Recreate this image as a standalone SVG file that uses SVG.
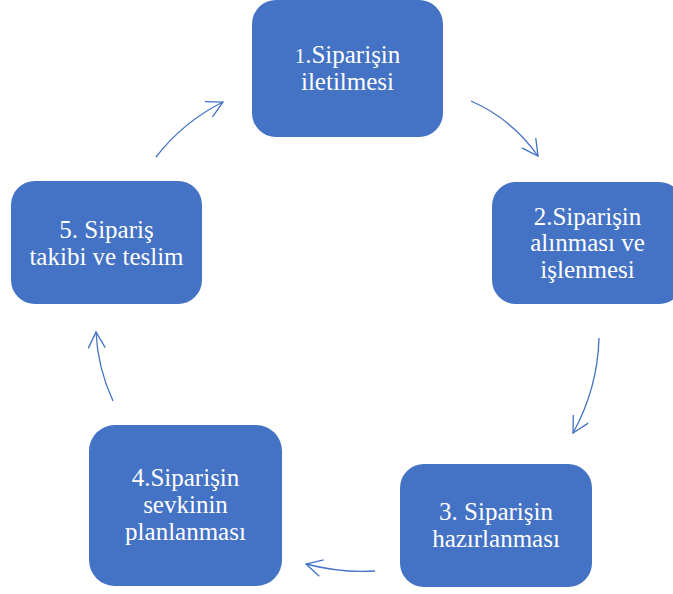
<svg xmlns="http://www.w3.org/2000/svg" width="673" height="594" viewBox="0 0 673 594">
  <style>
    .box { fill: #4472C4; }
    .lbl { fill: #FFFFFF; font-family: "Liberation Serif", "Times New Roman", serif; font-size: 25px; text-anchor: middle; }
    .flow { fill: none; stroke: #4472C4; stroke-width: 1.3; marker-end: url(#head); }
  </style>
  <defs>
    <marker id="head" markerUnits="userSpaceOnUse" viewBox="-20 -12 24 24" markerWidth="24" markerHeight="24" refX="0" refY="0" orient="auto" overflow="visible">
      <path d="M-16,-8.5 L0,0 L-16,8.5" fill="none" stroke="#4472C4" stroke-width="1.3"/>
    </marker>
  </defs>

  <rect width="673" height="594" fill="#FFFFFF"/>

  <g id="step1">
    <rect class="box" x="252" y="0" width="191" height="137" rx="24"/>
    <text class="lbl" x="347.5" y="63"><tspan font-size="21">1</tspan>.Siparişin</text>
    <text class="lbl" x="347.5" y="90">iletilmesi</text>
  </g>

  <g id="step2">
    <rect class="box" x="492" y="182" width="191" height="122" rx="24"/>
    <text class="lbl" x="587.5" y="225">2.Siparişin</text>
    <text class="lbl" x="587.5" y="251">alınması ve</text>
    <text class="lbl" x="587.5" y="278">işlenmesi</text>
  </g>

  <g id="step3">
    <rect class="box" x="400" y="464" width="192" height="123" rx="24"/>
    <text class="lbl" x="496" y="520">3. Siparişin</text>
    <text class="lbl" x="496" y="547">hazırlanması</text>
  </g>

  <g id="step4">
    <rect class="box" x="89" y="425" width="193" height="161" rx="26"/>
    <text class="lbl" x="185.5" y="486">4.Siparişin</text>
    <text class="lbl" x="185.5" y="513">sevkinin</text>
    <text class="lbl" x="185.5" y="540">planlanması</text>
  </g>

  <g id="step5">
    <rect class="box" x="11" y="181" width="191" height="123" rx="24"/>
    <text class="lbl" x="106.5" y="238">5. Sipariş</text>
    <text class="lbl" x="106.5" y="265">takibi ve teslim</text>
  </g>

  <g id="connectors">
    <path class="flow" d="M471,101 Q512,119 538,156"/>
    <path class="flow" d="M599,338 Q597.6,388.6 573,433"/>
    <path class="flow" d="M375,571 Q340,573 306,564"/>
    <path class="flow" d="M113,401 Q97.7,368 96,332"/>
    <path class="flow" d="M156,157 Q183,122 223,102"/>
  </g>
</svg>
